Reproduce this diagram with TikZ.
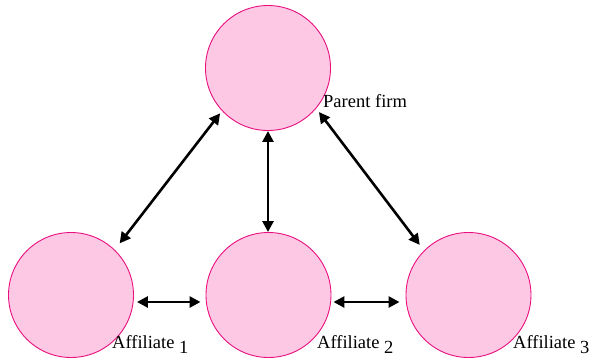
\documentclass[tikz,border=0pt]{standalone}
\usepackage{fontspec}
\setmainfont{Liberation Serif}
\usetikzlibrary{arrows.meta}
\definecolor{circfill}{RGB}{253,200,228}
\definecolor{circline}{RGB}{232,17,127}
\tikzset{
  firm/.style={circle, draw=circline, fill=circfill, line width=0.9pt, minimum size=125pt, inner sep=0pt},
  biarrow/.style={line width=2.6pt, {Triangle[length=11pt,width=11pt]}-{Triangle[length=11pt,width=11pt]}},
  lbl/.style={anchor=base west, inner sep=0pt, font=\fontsize{18.5}{21}\selectfont}
}
\begin{document}
\begin{tikzpicture}[x=1pt,y=-1pt]
\useasboundingbox (0,0) rectangle (590,357);
\node[firm] (p) at (268,68) {};
\node[firm] (a1) at (71,295) {};
\node[firm] (a2) at (268.5,295) {};
\node[firm] (a3) at (468.5,295) {};
\node[lbl] (lp) at (323,107) {Parent firm};
\node[lbl] (l1) at (112,348) {Affiliate \raisebox{-5pt}{1}};
\node[lbl] (l2) at (317,348) {Affiliate \raisebox{-5pt}{2}};
\node[lbl] (l3) at (513,348) {Affiliate \raisebox{-5pt}{3}};
\draw[biarrow, shorten <=3pt, shorten >=8pt] (p.223.5) -- (a1.46);
\draw[biarrow] (p.south) -- (p.south |- a2.north);
\draw[biarrow, shorten <=4.5pt, shorten >=7pt] (p.320) -- (a3.135);
\draw[biarrow, shorten <=3pt, shorten >=5pt] ([yshift=-7pt]a1.east) -- ([yshift=-7pt]a2.west);
\draw[biarrow, shorten <=2pt, shorten >=6pt] ([yshift=-7pt]a2.east) -- ([yshift=-7pt]a3.west);
\end{tikzpicture}
\end{document}
